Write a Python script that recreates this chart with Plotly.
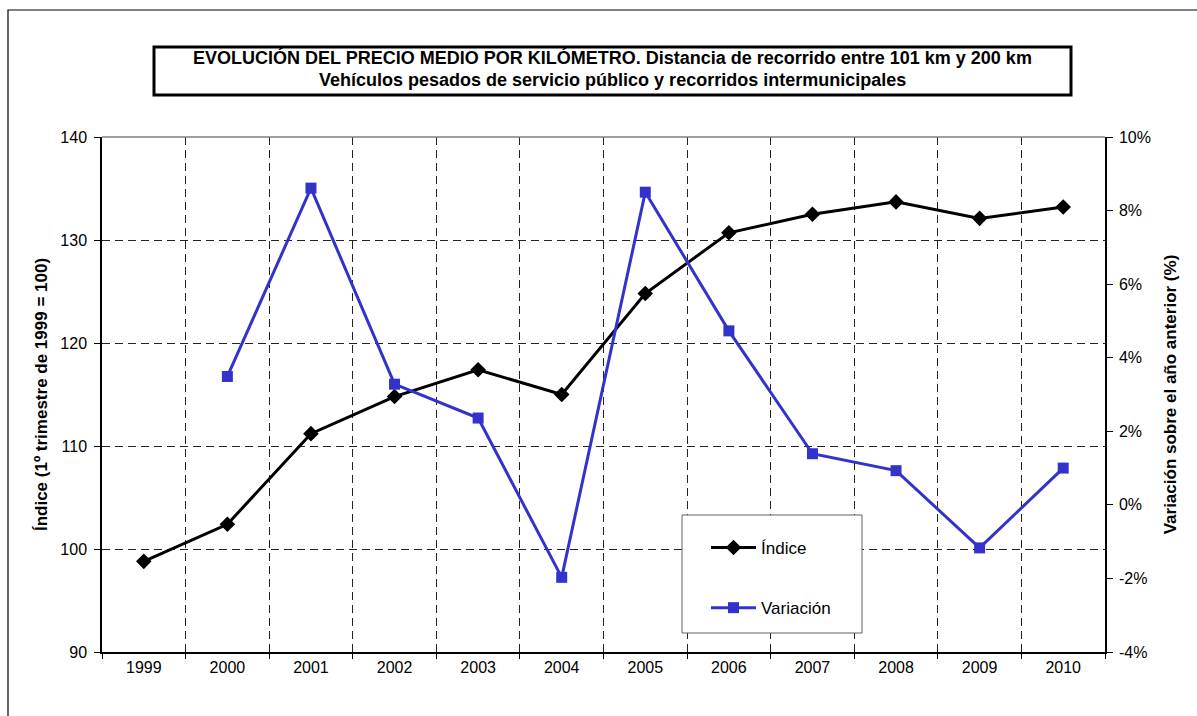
import plotly.graph_objects as go

years = ["1999", "2000", "2001", "2002", "2003", "2004", "2005", "2006", "2007", "2008", "2009", "2010"]
indice = [98.8, 102.4, 111.2, 114.8, 117.4, 115.0, 124.8, 130.7, 132.5, 133.7, 132.1, 133.2]
variacion = [None, 3.49, 8.61, 3.28, 2.36, -1.97, 8.50, 4.73, 1.39, 0.93, -1.17, 1.00]

left_ticks = [90, 100, 110, 120, 130, 140]
right_ticks = [-4, -2, 0, 2, 4, 6, 8, 10]
right_labels = [f"{v}%" for v in right_ticks]

title_line1 = "EVOLUCIÓN DEL PRECIO MEDIO POR KILÓMETRO. Distancia de recorrido entre 101 km y 200 km"
title_line2 = "Vehículos pesados de servicio público y recorridos intermunicipales"

FONT = "Liberation Sans, Arial, sans-serif"
W, H = 1197, 716
L, R, T, B = 102, 1105, 137, 652

def px(x):
    return (x - L) / (R - L)

def py(y):
    return (B - y) / (B - T)

fig = go.Figure()
fig.add_trace(go.Scatter(
    x=years, y=indice, name="Índice", mode="lines+markers",
    line=dict(color="black", width=3),
    marker=dict(symbol="diamond", size=12, color="black"),
    legendgroup="a", yaxis="y",
))
fig.add_trace(go.Scatter(
    x=years, y=variacion, name="Variación", mode="lines+markers",
    line=dict(color="#3333CC", width=3),
    marker=dict(symbol="square", size=11, color="#3333CC"),
    legendgroup="b", yaxis="y2", connectgaps=False,
))

shapes = [
    dict(type="rect", xref="paper", yref="paper", x0=px(8), x1=px(1240), y0=py(760), y1=py(10),
         line=dict(color="black", width=1.2), fillcolor="rgba(0,0,0,0)", layer="below"),
    dict(type="rect", xref="paper", yref="paper", x0=px(154), x1=px(1071), y0=py(95), y1=py(47),
         line=dict(color="black", width=3), fillcolor="white", layer="below"),
    dict(type="line", xref="paper", yref="paper", x0=0, x1=1, y0=1, y1=1,
         line=dict(color="#808080", width=1.5)),
    dict(type="rect", xref="paper", yref="paper", x0=px(682), x1=px(862), y0=py(633), y1=py(515),
         line=dict(color="#606060", width=1), fillcolor="white", layer="above"),
]

annotations = [
    dict(text=f"<b>{title_line1}</b>", xref="paper", yref="paper", x=px(612.5), y=py(58),
         xanchor="center", yanchor="middle", showarrow=False,
         font=dict(family=FONT, size=18, color="black")),
    dict(text=f"<b>{title_line2}</b>", xref="paper", yref="paper", x=px(612.5), y=py(80),
         xanchor="center", yanchor="middle", showarrow=False,
         font=dict(family=FONT, size=18, color="black")),
]

fig.update_layout(
    width=W, height=H,
    margin=dict(l=L, r=W - R, t=T, b=H - B),
    paper_bgcolor="white", plot_bgcolor="white",
    font=dict(family=FONT, size=16, color="black"),
    showlegend=True,
    legend=dict(x=px(706), y=py(530), xanchor="left", yanchor="top",
                bgcolor="rgba(0,0,0,0)", borderwidth=0,
                font=dict(family=FONT, size=17, color="black"),
                tracegroupgap=35, itemwidth=45, traceorder="grouped"),
    xaxis=dict(
        type="category", tickson="boundaries",
        showgrid=True, gridcolor="#222", griddash="8px,5px", gridwidth=1,
        showline=True, linecolor="black", linewidth=1.5,
        ticks="outside", ticklen=5, tickcolor="black",
        tickfont=dict(family=FONT, size=16, color="black"),
        range=[-0.5, 11.5],
    ),
    yaxis=dict(
        range=[90, 140], tickmode="array", tickvals=left_ticks,
        showgrid=True, gridcolor="#222", griddash="8px,5px", gridwidth=1,
        showline=True, linecolor="black", linewidth=1.5,
        ticks="outside", ticklen=6, tickcolor="black", ticklabelstandoff=4,
        zeroline=False,
        tickfont=dict(family=FONT, size=16, color="black"),
        title=dict(text="<b>Índice (1º trimestre de 1999 = 100)</b>", standoff=8,
                   font=dict(family=FONT, size=17, color="black")),
    ),
    yaxis2=dict(
        overlaying="y", side="right", range=[-4, 10],
        tickmode="array", tickvals=right_ticks, ticktext=right_labels,
        showgrid=False, zeroline=False,
        showline=True, linecolor="black", linewidth=1.5,
        ticks="outside", ticklen=6, tickcolor="black", ticklabelstandoff=3,
        tickfont=dict(family=FONT, size=16, color="black"),
        title=dict(text="<b>Variación sobre el año anterior (%)</b>", standoff=14,
                   font=dict(family=FONT, size=17, color="black")),
    ),
    shapes=shapes,
    annotations=annotations,
)

fig.write_html("out.html", config={"displayModeBar": False},
               post_script="document.body.style.margin='0px';")
